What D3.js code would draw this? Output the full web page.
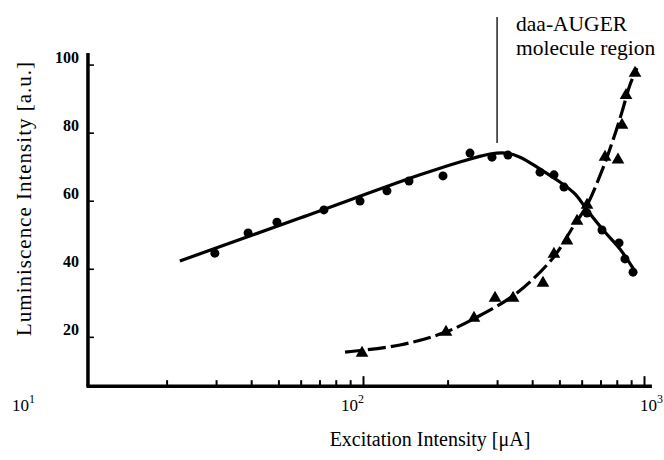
<!DOCTYPE html>
<html>
<head>
<meta charset="utf-8">
<script src="https://cdn.jsdelivr.net/npm/d3@7"></script>
<style>
  html, body { margin: 0; padding: 0; background: #fff; }
  svg text { font-family: "Liberation Serif", "DejaVu Serif", serif; fill: #000; }
</style>
</head>
<body>
<svg id="chart" width="664" height="460"></svg>
<script>
// ---- data ----
const circleX = [29.7, 39, 49.4, 72.6, 97.6, 121.7, 145.8, 192.6, 240.3, 287.8, 328, 426.6, 478.3, 519, 627, 708.8, 815, 855.6, 914];
const circleY = [44.6, 50.5, 53.7, 57.3, 59.9, 62.9, 65.8, 67.3, 74.0, 72.8, 73.4, 68.4, 67.6, 64.0, 56.4, 51.4, 47.6, 42.9, 39.0];

const fitAX = [22.3, 59.7, 159.5, 221.4, 283.1, 320.2, 362, 426.6, 502, 568, 627, 726, 821, 936.5];
const fitAY = [42.3, 54.9, 67.6, 71.4, 73.7, 74.0, 72.8, 69.3, 65.5, 62.0, 57.3, 50.8, 45.8, 38.8];

const triX = [99.2, 197.4, 248.3, 295, 342, 437, 478, 532, 577.6, 627, 726.6, 808, 835, 863, 929];
const triY = [15.2, 21.4, 25.5, 31.4, 31.4, 35.8, 44.3, 48.2, 54.0, 58.7, 72.8, 72.0, 82.2, 91.0, 97.5];

const fitBX = [86.3, 135.4, 192.6, 254.5, 353, 474.5, 559, 627, 714.5, 775.6, 835, 891, 944];
const fitBY = [15.5, 17.6, 21.1, 25.8, 32.9, 43.2, 52.3, 58.7, 69.6, 77.8, 86.1, 94.0, 99.0];

const yTicks = [20, 40, 60, 80, 100];
const xMajor = [10, 100, 1000];
const xMinor = [20, 30, 40, 50, 60, 70, 80, 90, 200, 300, 400, 500, 600, 700, 800, 900];
const xTickLabels = ["1", "2", "3"];   // exponents of 10
const annotationX = 300;
const annotationLines = ["daa-AUGER", "molecule region"];
const xTitle = "Excitation Intensity [\u03bcA]";
const yTitle = "Luminiscence Intensity [a.u.]";

// ---- scales ----
const svg = d3.select("#chart");
const x = d3.scaleLog().domain([10, 1000]).range([82, 644]);
const y = d3.scaleLinear().domain([0, 100]).range([404.9, 64.6]);

const xLo = 10.5, xHi = 1067, yLo = 5.5, yHi = 103.4;

// ---- axes ----
const g = svg.append("g");
g.append("line")
  .attr("x1", x(xLo)).attr("x2", x(xLo))
  .attr("y1", y(yHi)).attr("y2", y(yLo))
  .attr("stroke", "#000").attr("stroke-width", 3.5);
g.append("line")
  .attr("x1", x(xLo) - 1.5).attr("x2", x(xHi))
  .attr("y1", y(yLo)).attr("y2", y(yLo))
  .attr("stroke", "#000").attr("stroke-width", 3.5);

// y ticks (inward)
const yAxis = d3.axisRight(y).tickValues(yTicks).tickSize(6).tickFormat("");
const yg = svg.append("g").attr("transform", `translate(${x(xLo)},0)`).call(yAxis);
yg.select(".domain").remove();
yg.selectAll(".tick line").attr("stroke-width", 1.6);
svg.append("g").selectAll("text").data(yTicks).join("text")
  .attr("x", 79).attr("y", d => y(d) - 2)
  .attr("text-anchor", "end")
  .attr("font-size", 16).attr("font-weight", "bold")
  .text(d => d);

// x ticks (inward)
const xAxisMajor = d3.axisTop(x).tickValues(xMajor).tickSize(10).tickFormat("");
const xg = svg.append("g").attr("transform", `translate(0,${y(yLo)})`).call(xAxisMajor);
xg.select(".domain").remove();
xg.selectAll(".tick line").attr("stroke-width", 2);
xg.selectAll(".tick").filter(d => d === 10).remove();
const xAxisMinor = d3.axisTop(x).tickValues(xMinor).tickSize(6).tickFormat("");
const xg2 = svg.append("g").attr("transform", `translate(0,${y(yLo)})`).call(xAxisMinor);
xg2.select(".domain").remove();
xg2.selectAll(".tick line").attr("stroke-width", 2);

// x tick labels 10^n (scan places them with uneven offsets from the ticks)
const labelShift = [-70, -22, -4];
const xl = svg.append("g").selectAll("text").data(xMajor).join("text")
  .attr("x", (d, i) => x(d) + labelShift[i])
  .attr("y", y(yLo) + 25)
  .attr("text-anchor", "start")
  .attr("font-size", 17);
xl.append("tspan").text("10");
xl.append("tspan").attr("dy", -8).attr("font-size", 12).text((d, i) => xTickLabels[i]);

// axis titles
svg.append("text")
  .attr("x", 430).attr("y", 446)
  .attr("text-anchor", "middle")
  .attr("font-size", 20)
  .text(xTitle);
svg.append("text")
  .attr("transform", `translate(31,199) rotate(-90)`)
  .attr("text-anchor", "middle")
  .attr("font-size", 21)
  .attr("textLength", 274).attr("lengthAdjust", "spacing")
  .text(yTitle);

// ---- curves ----
const lineA = d3.line().x(d => x(d[0])).y(d => y(d[1])).curve(d3.curveCatmullRom.alpha(0.5));
svg.append("path")
  .datum(fitAX.map((v, i) => [v, fitAY[i]]))
  .attr("d", lineA)
  .attr("fill", "none").attr("stroke", "#000").attr("stroke-width", 3.2);

svg.append("path")
  .datum(fitBX.map((v, i) => [v, fitBY[i]]))
  .attr("d", lineA)
  .attr("fill", "none").attr("stroke", "#000").attr("stroke-width", 3.2)
  .attr("stroke-dasharray", "18,5");

// ---- markers ----
svg.append("g").selectAll("circle").data(circleX.map((v, i) => [v, circleY[i]])).join("circle")
  .attr("cx", d => x(d[0])).attr("cy", d => y(d[1]))
  .attr("r", 4.5).attr("fill", "#000");

svg.append("g").selectAll("path").data(triX.map((v, i) => [v, triY[i]])).join("path")
  .attr("transform", d => `translate(${x(d[0])},${y(d[1])})`)
  .attr("d", d3.symbol(d3.symbolTriangle, 70))
  .attr("fill", "#000");

// ---- annotation ----
svg.append("line")
  .attr("x1", x(annotationX)).attr("x2", x(annotationX))
  .attr("y1", 17).attr("y2", 143)
  .attr("stroke", "#000").attr("stroke-width", 1.3);
svg.append("g").selectAll("text").data(annotationLines).join("text")
  .attr("x", x(annotationX) + 19)
  .attr("y", (d, i) => 31 + i * 24)
  .attr("font-size", 21.5)
  .text(d => d);
</script>
</body>
</html>
